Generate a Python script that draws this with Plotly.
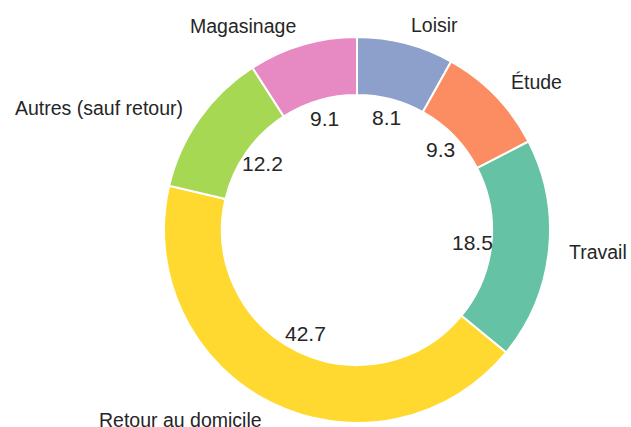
import math
import plotly.graph_objects as go

# Data (order: clockwise from 12 o'clock)
categories = ["Loisir", "Étude", "Travail", "Retour au domicile", "Autres (sauf retour)", "Magasinage"]
values = [8.1, 9.3, 18.5, 42.7, 12.2, 9.1]
colors = ["#8da0cb", "#fc8d62", "#66c2a5", "#ffd92f", "#a6d854", "#e78ac3"]

W, H = 631, 427
CX, CY, R = 357, 230, 193  # pixel centre / radius of pie
HOLE = 0.7
PCT_DIST = 0.6
LABEL_DIST = 1.1
TEXT_COLOR = "#262626"
FONT = "Liberation Sans, Arial, sans-serif"

fig = go.Figure()
fig.add_trace(go.Pie(
    labels=categories,
    values=values,
    sort=False,
    direction="clockwise",
    rotation=0,
    hole=HOLE,
    textinfo="none",
    hoverinfo="label+value",
    marker=dict(colors=colors, line=dict(color="white", width=2)),
    domain=dict(x=[(CX - R) / W, (CX + R) / W],
                y=[(H - CY - R) / H, (H - CY + R) / H]),
    showlegend=False,
))

total = sum(values)
cum = 0.0
annotations = []
for cat, v in zip(categories, values):
    mid = 90 - (cum + v / 2) / total * 360
    cum += v
    c, s = math.cos(math.radians(mid)), math.sin(math.radians(mid))
    # value text
    px, py = CX + PCT_DIST * R * c, CY - PCT_DIST * R * s
    annotations.append(dict(
        x=px / W, y=1 - py / H, xref="paper", yref="paper",
        text=f"{v:.1f}", showarrow=False, xanchor="center", yanchor="middle",
        font=dict(family=FONT, size=21, color=TEXT_COLOR)))
    # category label
    lx, ly = CX + LABEL_DIST * R * c, CY - LABEL_DIST * R * s
    annotations.append(dict(
        x=lx / W, y=1 - ly / H, xref="paper", yref="paper",
        text=cat, showarrow=False, xanchor="left" if c > 0 else "right", yanchor="middle",
        borderpad=0,
        font=dict(family=FONT, size=19.5, color=TEXT_COLOR)))

fig.update_layout(
    width=W, height=H,
    margin=dict(l=0, r=0, t=0, b=0),
    paper_bgcolor="white",
    plot_bgcolor="white",
    annotations=annotations,
)

fig.write_html("out.html", config={"displayModeBar": False},
               post_script="document.body.style.margin='0';")
